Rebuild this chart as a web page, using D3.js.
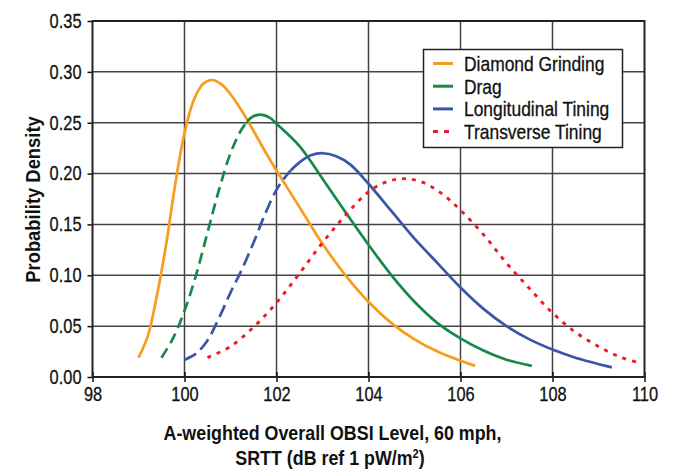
<!DOCTYPE html>
<html><head><meta charset="utf-8">
<script src="https://cdn.jsdelivr.net/npm/d3@7"></script>
<style>
body{margin:0;background:#fff}
text{font-family:"Liberation Sans",Arial,sans-serif;fill:#111}
</style>
</head><body>
<svg id="chart" width="676" height="470"></svg>
<script>
// ---- data ----
const xTicks = [98, 100, 102, 104, 106, 108, 110];
const yTicks = [0, 0.05, 0.10, 0.15, 0.20, 0.25, 0.30, 0.35];
const yTickLabels = ["0.00","0.05","0.10","0.15","0.20","0.25","0.30","0.35"];
const seriesNames = ["Diamond Grinding", "Drag", "Longitudinal Tining", "Transverse Tining"];
const seriesColors = ["#F89C1C", "#16894A", "#3B56A6", "#ED1C24"];

const diamondX = [99.0, 99.2, 99.4, 99.6, 99.8, 100.0, 100.2, 100.4, 100.59, 100.8, 101.0, 101.2, 101.4, 101.6, 101.8, 102.0, 102.5, 103.0, 103.5, 104.0, 104.5, 105.0, 105.5, 106.0, 106.32];
const diamondY = [0.019, 0.040, 0.080, 0.130, 0.190, 0.240, 0.272, 0.288, 0.292, 0.288, 0.278, 0.265, 0.250, 0.234, 0.218, 0.203, 0.167, 0.131, 0.100, 0.074, 0.053, 0.037, 0.025, 0.016, 0.011];

const dragX = [99.5, 99.75, 100.0, 100.25, 100.5, 100.75, 101.0, 101.25, 101.45, 101.65, 101.85, 102.0, 102.5, 103.0, 103.5, 104.0, 104.5, 105.0, 105.5, 106.0, 106.5, 107.0, 107.55];
const dragY = [0.019, 0.038, 0.065, 0.100, 0.142, 0.184, 0.220, 0.244, 0.255, 0.258, 0.255, 0.249, 0.227, 0.195, 0.162, 0.130, 0.100, 0.074, 0.053, 0.038, 0.026, 0.017, 0.011];

const longX = [100.0, 100.25, 100.5, 100.75, 101.0, 101.25, 101.5, 101.75, 102.0, 102.25, 102.5, 102.75, 103.0, 103.3, 103.6, 104.0, 104.5, 105.0, 105.5, 106.0, 106.5, 107.0, 107.5, 108.0, 108.5, 109.29];
const longY = [0.017, 0.023, 0.036, 0.058, 0.083, 0.106, 0.132, 0.160, 0.184, 0.200, 0.211, 0.218, 0.220, 0.217, 0.209, 0.190, 0.163, 0.136, 0.112, 0.088, 0.067, 0.050, 0.037, 0.027, 0.019, 0.0095];

const transX = [100.5, 101.0, 101.5, 102.0, 102.5, 103.0, 103.5, 104.0, 104.4, 104.8, 105.2, 105.6, 106.0, 106.5, 107.0, 107.5, 108.0, 108.5, 109.0, 109.5, 109.94];
const transY = [0.019, 0.030, 0.049, 0.073, 0.102, 0.132, 0.159, 0.182, 0.192, 0.195, 0.191, 0.180, 0.164, 0.140, 0.112, 0.087, 0.063, 0.044, 0.030, 0.019, 0.0134];

// x value where each curve switches from its dashed (extrapolated) part to solid
const solidFrom = [null, 101.35, 102.3, null];

// ---- layout ----
const svg = d3.select("#chart");
const L = 92.5, R = 644.5, T = 21, B = 377;
const x = d3.scaleLinear().domain([98, 110]).range([L, R]);
const y = d3.scaleLinear().domain([0, 0.35]).range([B, T]);

// horizontally condense a text element (keeps its anchor x in place)
function condense(sel, sx) {
  sel.each(function() {
    const t = d3.select(this);
    const x0 = +(t.attr("x") || 0);
    t.attr("x", x0 / sx).attr("transform", `scale(${sx},1)`);
  });
}

// grid
const g = svg.append("g");
g.selectAll(".vg").data(xTicks.slice(1, -1)).join("line")
  .attr("x1", d => x(d)).attr("x2", d => x(d)).attr("y1", T).attr("y2", B)
  .attr("stroke", "#444").attr("stroke-width", 1.5);
g.selectAll(".hg").data(yTicks.slice(1, -1)).join("line")
  .attr("x1", L).attr("x2", R).attr("y1", d => y(d)).attr("y2", d => y(d))
  .attr("stroke", "#444").attr("stroke-width", 1.5);

// axes
const xAxis = d3.axisBottom(x).tickValues(xTicks).tickSize(5).tickSizeOuter(0).tickPadding(5).tickFormat(d3.format("d"));
const gx = svg.append("g").attr("transform", `translate(0,${B})`).call(xAxis);
gx.selectAll(".tick line").attr("y1", -5).attr("stroke", "#111").attr("stroke-width", 1.5);
gx.select(".domain").remove();
gx.selectAll("text").attr("font-size", 20).attr("fill", "#111").attr("font-family", null)
  .attr("stroke", "#111").attr("stroke-width", 0.3).call(condense, 0.82);

const yAxis = d3.axisLeft(y).tickValues(yTicks).tickSize(5).tickSizeOuter(0).tickPadding(6)
  .tickFormat((d, i) => yTickLabels[i]);
const gy = svg.append("g").attr("transform", `translate(${L},0)`).call(yAxis);
gy.selectAll(".tick line").attr("stroke", "#111").attr("stroke-width", 1.5);
gy.select(".domain").remove();
gy.selectAll("text").attr("font-size", 20).attr("fill", "#111").attr("font-family", null)
  .attr("stroke", "#111").attr("stroke-width", 0.3).call(condense, 0.82);

// frame
svg.append("rect").attr("x", L).attr("y", T).attr("width", R - L).attr("height", B - T)
  .attr("fill", "none").attr("stroke", "#222").attr("stroke-width", 2);

const defs = svg.append("defs");

// curves
const allX = [diamondX, dragX, longX, transX];
const allY = [diamondY, dragY, longY, transY];
const line = d3.line().x(d => x(d[0])).y(d => y(d[1])).curve(d3.curveCatmullRom.alpha(0.5));
const dashPatterns = [null, "11,6", "13,6", "4,6"];

allX.forEach((xs, i) => {
  const pts = xs.map((v, j) => [v, allY[i][j]]);
  const col = seriesColors[i];
  if (solidFrom[i] !== null) {
    const bx = x(solidFrom[i]);
    defs.append("clipPath").attr("id", "cd" + i).append("rect")
      .attr("x", 0).attr("y", 0).attr("width", bx).attr("height", 470);
    defs.append("clipPath").attr("id", "cs" + i).append("rect")
      .attr("x", bx).attr("y", 0).attr("width", 676 - bx).attr("height", 470);
    svg.append("path").attr("d", line(pts)).attr("fill", "none").attr("stroke", col)
      .attr("stroke-width", 2.7).attr("stroke-dasharray", dashPatterns[i])
      .attr("clip-path", `url(#cd${i})`);
    svg.append("path").attr("d", line(pts)).attr("fill", "none").attr("stroke", col)
      .attr("stroke-width", 2.7).attr("clip-path", `url(#cs${i})`);
  } else {
    svg.append("path").attr("d", line(pts)).attr("fill", "none").attr("stroke", col)
      .attr("stroke-width", i === 3 ? 2.9 : 2.7)
      .attr("stroke-dasharray", dashPatterns[i]);
  }
});

// legend
const lg = svg.append("g");
lg.append("rect").attr("x", 423.5).attr("y", 49.5).attr("width", 199).attr("height", 98)
  .attr("fill", "#fff").attr("stroke", "#222").attr("stroke-width", 1.5);
seriesNames.forEach((name, i) => {
  const cy = 63.5 + i * 22.7;
  lg.append("line").attr("x1", 433).attr("x2", 453).attr("y1", cy).attr("y2", cy)
    .attr("stroke", seriesColors[i]).attr("stroke-width", 3)
    .attr("stroke-dasharray", i === 3 ? "5,6" : null);
  lg.append("text").attr("x", 464).attr("y", cy).attr("dy", "0.36em")
    .attr("font-size", 20.5).attr("stroke", "#111").attr("stroke-width", 0.3)
    .text(name).call(condense, 0.85);
});

// axis titles
svg.append("text").attr("x", 332.5).attr("y", 440).attr("text-anchor", "middle")
  .attr("font-size", 21).attr("font-weight", "bold").text("A-weighted Overall OBSI Level, 60 mph,")
  .call(condense, 0.85);
const t2 = svg.append("text").attr("x", 330).attr("y", 465.5).attr("text-anchor", "middle")
  .attr("font-size", 21).attr("font-weight", "bold");
t2.append("tspan").text("SRTT (dB ref 1 pW/m");
t2.append("tspan").attr("font-size", 13).attr("dy", -7).text("2");
t2.append("tspan").attr("dy", 7).text(")");
t2.call(condense, 0.85);

svg.append("text").attr("transform", "translate(39.5,199.5) rotate(-90) scale(0.92,1)").attr("text-anchor", "middle")
  .attr("font-size", 20).attr("font-weight", "bold").text("Probability Density");
</script>
</body></html>
